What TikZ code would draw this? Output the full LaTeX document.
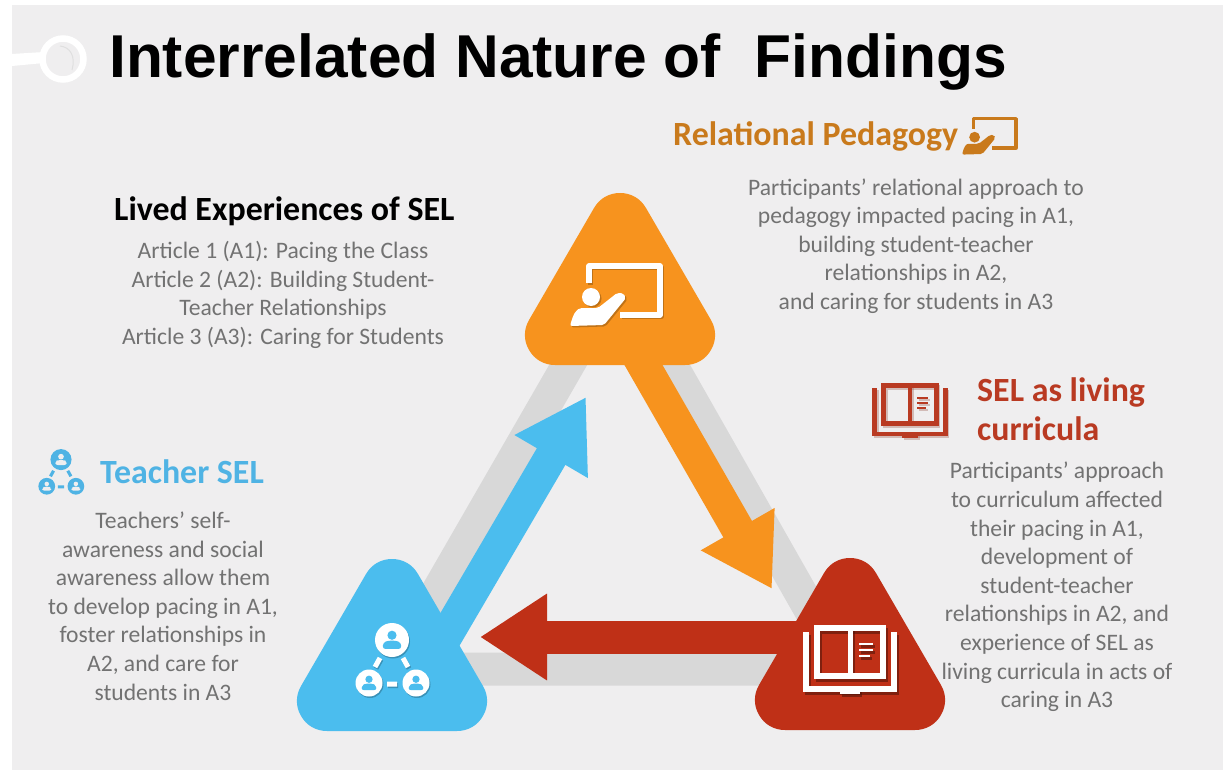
\documentclass[tikz,border=0pt]{standalone}
\usepackage{fontspec}
\setmainfont{Carlito}
\newfontfamily\titlefont{Liberation Sans}
\usetikzlibrary{arrows.meta}
\definecolor{pagebg}{HTML}{EFEEEF}
\definecolor{bandgray}{HTML}{D8D8D8}
\definecolor{orangefill}{HTML}{F7931E}
\definecolor{bluefill}{HTML}{4BBDEE}
\definecolor{redfill}{HTML}{BF3017}
\definecolor{orangehead}{HTML}{C97A1C}
\definecolor{bluehead}{HTML}{4FB3E4}
\definecolor{redhead}{HTML}{B93A22}
\definecolor{bodygray}{HTML}{727272}
\tikzset{
  headtext/.style={font=\fontsize{33.9}{40}\selectfont\bfseries,inner sep=0pt},
  bodytext/.style={font=\fontsize{23.6}{28.6}\selectfont,text=bodygray,align=center,inner sep=0pt},
  tri/.style={line width=60pt,line join=round},
  flow/.style={line width=33pt},
}
% rounded triangle around centre
\newcommand{\roundtri}[3]{\filldraw[tri,draw=#3,fill=#3] (#1,#2-72) -- (#1-65,#2+40) -- (#1+65,#2+40) -- cycle;}
% teacher at board
\newcommand{\teachshape}[3]{%
 \begin{scope}[shift={(#1,#2)},scale=#3]
  \draw[line width=#3*5.5pt,line join=round] (-31,-12) -- (-31,-29) -- (40,-29) -- (40,20) -- (0,20);
  \fill (-29,2) circle (9);
  \fill[rounded corners=2pt] (-50,31) .. controls (-47,20) and (-44,13) .. (-36,13) -- (-22,13) -- (-3,-2) -- (3,-2) -- (6,3) -- (-16,30) -- cycle;
 \end{scope}}
% open book
\newcommand{\bookshape}[3]{%
 \begin{scope}[shift={(#1,#2)},scale=#3]
  \draw[line width=#3*6pt] (-33,-31) rectangle (33,17);
  \draw[line width=#3*5pt] (0,-31) -- (0,17);
  \draw[line width=#3*6pt] (-44,-27) -- (-44,30) -- (44,30) -- (44,-27);
  \fill (-10,30) rectangle (10,35);
  \draw[line width=#3*2.5pt] (9,-15) -- (23,-15) (9,-9) -- (23,-9) (9,-3) -- (20,-3);
 \end{scope}}
% network of people
\newcommand{\person}[4]{%
  \fill[#4] (#1,#2-0.28*#3) circle (0.27*#3);
  \fill[#4,rounded corners=0.15*#3*1pt] (#1-0.55*#3,#2+0.52*#3) -- (#1-0.52*#3,#2+0.16*#3) -- (#1-0.25*#3,#2+0.04*#3) -- (#1+0.25*#3,#2+0.04*#3) -- (#1+0.52*#3,#2+0.16*#3) -- (#1+0.55*#3,#2+0.52*#3) -- cycle;}
\newcommand{\netshape}[4]{%
 \begin{scope}[shift={(#1,#2)},scale=#3]
  \fill (0,-20) circle (17);
  \fill (-23,23) circle (13.5);
  \fill (24,23) circle (13.5);
  \draw[line width=#3*5pt] (-12,-2) -- (-17,7) (11,-2) -- (16,7) (-5,24) -- (5,24);
  \person{0}{-20}{17}{#4}
  \person{-23}{23}{13.5}{#4}
  \person{24}{23}{13.5}{#4}
 \end{scope}}
\begin{document}
\begin{tikzpicture}[x=1pt,y=-1pt]
\useasboundingbox (0,0) rectangle (1223,770);
\fill[white] (0,0) rectangle (1223,770);
\fill[pagebg] (12,5) rectangle (1223,770);

% header ornament
\fill[white] (12,54) -- (44,52) -- (44,63) -- (12,66) -- cycle;
\draw[white,line width=6.5pt] (63,59) circle (20.5);
\draw[white!75!gray,line width=1pt] (60,46) .. controls (70,47) and (76,56) .. (72,70);

\node[font=\titlefont\fontsize{60.5}{66}\selectfont\bfseries,inner sep=0pt,anchor=base west] (title) at (109,78) {Interrelated Nature of\ \ Findings};

% coordinates of the cycle
\coordinate (apexTop) at (620,275);
\coordinate (apexLeft) at (393,669);
\coordinate (apexRight) at (844,669);
\draw[bandgray,line width=33pt,line join=miter] (apexTop) -- (apexRight) -- (apexLeft) -- cycle;

\coordinate (orangeTail) at (632,345);
\coordinate (orangeTip) at (772,589);
\coordinate (blueTail) at (432,660);
\coordinate (blueTip) at (586,397);
\coordinate (redTail) at (820,637);
\coordinate (redTip) at (480,637);

\roundtri{620}{295}{orangefill}
\roundtri{392}{661}{bluefill}
\roundtri{850}{660}{redfill}

\draw[flow,draw=orangefill,fill=orangefill,-{Triangle[width=80pt,length=69pt]}] (orangeTail) -- (orangeTip);
\draw[flow,draw=bluefill,fill=bluefill,-{Triangle[width=80pt,length=69pt]}] (blueTail) -- (blueTip);
\draw[flow,draw=redfill,fill=redfill,-{Triangle[width=82pt,length=67pt]}] (redTail) -- (redTip);

% icons in triangles
\begin{scope}[draw=black!50!orangefill,fill=black!50!orangefill,opacity=.45]\teachshape{621.5}{296.5}{1}\end{scope}
\begin{scope}[draw=white,fill=white]\teachshape{620}{295}{1}\end{scope}
\begin{scope}[draw=black!60!redfill,fill=black!60!redfill,opacity=.55]\bookshape{852}{661.5}{1}\end{scope}
\begin{scope}[draw=white,fill=white]\bookshape{850}{659}{1}\end{scope}
\begin{scope}[draw=black!50!bluefill,fill=black!50!bluefill,opacity=.45]\netshape{393}{661.5}{1}{black!50!bluefill}\end{scope}
\begin{scope}[draw=white,fill=white]\netshape{392}{660}{1}{bluefill}\end{scope}

% small icons
\begin{scope}[draw=orangehead,fill=orangehead]\teachshape{992}{136}{.6}\end{scope}
\begin{scope}[draw=redhead!50!gray,fill=redhead!50!gray,opacity=.35]\bookshape{911.5}{412}{.8}\end{scope}
\begin{scope}[draw=redhead,fill=redhead]\bookshape{910}{410}{.8}\end{scope}
\begin{scope}[draw=bluehead,fill=bluehead]\netshape{61}{472}{.62}{pagebg}\end{scope}

% text
\node[headtext,anchor=base west] (lived) at (114,221) {Lived Experiences of SEL};
\node[bodytext] (livedbody) at (283,295) {Article 1 (A1): Pacing the Class\\Article 2 (A2): Building Student-\\Teacher Relationships\\Article 3 (A3): Caring for Students};
\node[headtext,text=orangehead,anchor=base west] (rel) at (673,146) {Relational Pedagogy};
\node[bodytext] (relbody) at (916,246) {Participants’ relational approach to\\pedagogy impacted pacing in A1,\\building student-teacher\\relationships in A2,\\and caring for students in A3};
\node[headtext,text=bluehead,anchor=base west] (tsel) at (100,483) {Teacher SEL};
\node[bodytext] (tselbody) at (163,606) {Teachers’ self-\\awareness and social\\awareness allow them\\to develop pacing in A1,\\foster relationships in\\A2, and care for\\students in A3};
\node[headtext,text=redhead,anchor=base west] (sel1) at (977,401) {SEL as living};
\node[headtext,text=redhead,anchor=base west] (sel2) at (977,440) {curricula};
\node[bodytext] (selbody) at (1057,587) {Participants’ approach\\to curriculum affected\\their pacing in A1,\\development of\\student-teacher\\relationships in A2, and\\experience of SEL as\\living curricula in acts of\\caring in A3};
\end{tikzpicture}
\end{document}
